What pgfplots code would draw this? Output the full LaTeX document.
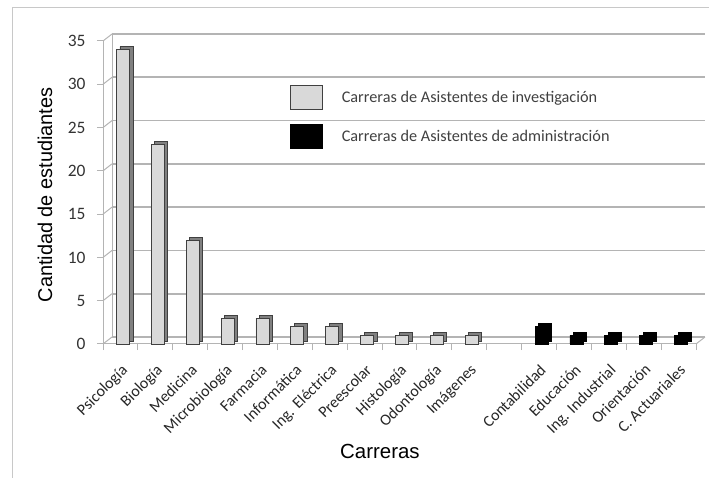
\documentclass[border=0pt]{standalone}
\usepackage{pgfplots}
\pgfplotsset{compat=1.18}
\usepackage{fontspec}
\setmainfont{Carlito}
\newfontfamily\arial{Liberation Sans}
\definecolor{barfill}{HTML}{D9D9D9}
\definecolor{baredge}{HTML}{404040}
\definecolor{barside}{HTML}{808080}
\definecolor{gridc}{HTML}{B4B4B4}
\definecolor{framec}{HTML}{C8C8C8}
\begin{document}
\begin{tikzpicture}
\useasboundingbox (0,0) rectangle (709bp,478bp);
% outer frame (top and left edges only are visible)
\draw[framec, line width=1bp] (12bp,0bp) -- (12bp,470bp) -- (709bp,470bp);
\begin{axis}[
at={(103bp,134bp)}, anchor=south west,
scale only axis,
width=593bp, height=303bp,
xmin=-0.5, xmax=16.5,
ymin=0, ymax=35,
ytick={0,5,...,35},
xtick={-0.5,0.5,...,16.5},
xticklabels={},
extra x ticks={0,...,16},
extra x tick labels={Psicología, Biología, Medicina, Microbiología, Farmacia, Informática, Ing. Eléctrica, Preescolar, Histología, Odontología, Imágenes, {}, Contabilidad, Educación, Ing. Industrial, Orientación, C. Actuariales},
extra x tick style={major tick length=0pt,
  xticklabel style={xshift=0bp, yshift=-19bp, rotate=45, anchor=north east, inner sep=0bp,
  font=\fontsize{16}{18}\selectfont, text=black!85}},
axis x line*=bottom, axis y line*=left,
axis line style={gridc, line width=1bp},
tick align=outside, major tick length=6bp,
tick style={gridc, line width=1bp},
ymajorgrids=true,
major grid style={gridc, line width=1.6bp, xshift=9bp, yshift=7bp},
/pgf/number format/assume math mode=true,
yticklabel style={font=\fontsize{17.5}{20}\selectfont, text=black!80, xshift=-8bp},
ylabel={Cantidad de estudiantes},
ylabel style={font=\arial\fontsize{20}{24}\selectfont, at={(rel axis cs:-0.098,0.492)}, anchor=center},
xlabel={Carreras},
xlabel style={font=\arial\fontsize{20.5}{24}\selectfont, at={(rel axis cs:0.467,-0.356)}, anchor=center},
legend style={at={(rel axis cs:0.31,0.862)}, anchor=north west, draw=none, fill=none,
  font=\fontsize{16.3}{19}\selectfont, text=black!75, row sep=14bp,
  /tikz/every odd column/.append style={column sep=17bp}},
legend cell align=left,
legend image code/.code={\draw[#1] (0bp,-12bp) rectangle (32bp,12bp);},
clip=false,
]
% back wall outline
\draw[gridc, line width=1bp] ([xshift=9bp,yshift=7bp]rel axis cs:0,0) -- ([xshift=9bp,yshift=7bp]rel axis cs:0,1);
\draw[gridc, line width=1bp] (rel axis cs:1,0) -- ++(9bp,7bp);
\pgfplotsinvokeforeach{0,5,...,35}{
  \draw[gridc, line width=1bp] (axis cs:-0.5,#1) -- ++(9bp,7bp);
}
% depth of the bars
\addplot[ybar, bar width=13bp, bar shift=2.5bp, fill=barside, draw=baredge, line width=0.8bp,
  xshift=3.5bp, yshift=3bp, forget plot]
  coordinates {(0,34)(1,23)(2,12)(3,3)(4,3)(5,2)(6,2)(7,1)(8,1)(9,1)(10,1)};
\addplot[ybar, bar width=13bp, bar shift=2.5bp, fill=barfill, draw=baredge, line width=0.8bp]
  coordinates {(0,34)(1,23)(2,12)(3,3)(4,3)(5,2)(6,2)(7,1)(8,1)(9,1)(10,1)};
\addlegendentry{Carreras de Asistentes de investigación}
\addplot[ybar, bar width=13bp, bar shift=2.5bp, fill=black, draw=black, line width=0.8bp,
  xshift=3.5bp, yshift=3bp, forget plot]
  coordinates {(12,2)(13,1)(14,1)(15,1)(16,1)};
\addplot[ybar, bar width=13bp, bar shift=2.5bp, fill=black, draw=black, line width=0.8bp]
  coordinates {(12,2)(13,1)(14,1)(15,1)(16,1)};
\addlegendentry{Carreras de Asistentes de administración}
\end{axis}
\end{tikzpicture}
\end{document}
